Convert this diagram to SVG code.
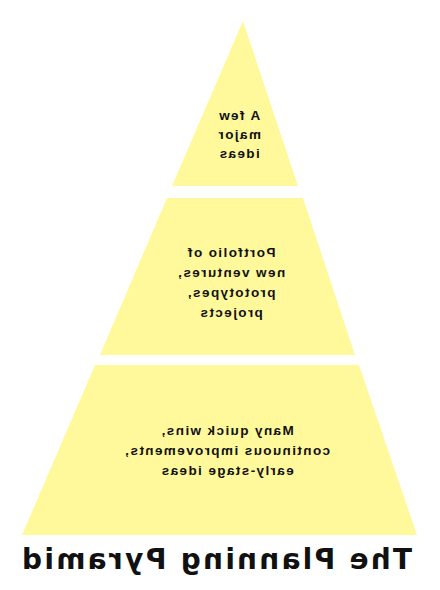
<svg xmlns="http://www.w3.org/2000/svg" width="440" height="590" viewBox="0 0 440 590">
<style>
.tier{fill:#FFF99C;stroke:none}
.lbl{font-family:"Liberation Sans",Arial,sans-serif;font-weight:bold;font-size:13.5px;letter-spacing:1.4px;fill:#111;text-anchor:middle}
.title{font-family:"DejaVu Sans",Verdana,sans-serif;font-weight:bold;font-size:28px;fill:#111;text-anchor:middle}
</style>
<rect width="440" height="590" fill="#ffffff"/>
<g id="tier-top">
<polygon class="tier" points="243,21 298,186 172,186"/>
<g transform="matrix(-1 0 0 1 478 0)">
<text class="lbl" x="239" y="120">A few</text>
<text class="lbl" x="239" y="139">major</text>
<text class="lbl" x="239" y="158">ideas</text>
</g>
</g>
<g id="tier-middle">
<polygon class="tier" points="167,198 303,198 355,355 100,355"/>
<g transform="matrix(-1 0 0 1 462 0)">
<text class="lbl" x="231" y="257">Portfolio of</text>
<text class="lbl" x="231" y="277">new ventures,</text>
<text class="lbl" x="231" y="297">prototypes,</text>
<text class="lbl" x="231" y="317">projects</text>
</g>
</g>
<g id="tier-bottom">
<polygon class="tier" points="95,365 359,365 417,535 22,535"/>
<g transform="matrix(-1 0 0 1 454 0)">
<text class="lbl" x="227" y="435">Many quick wins,</text>
<text class="lbl" x="227" y="455">continuous improvements,</text>
<text class="lbl" x="227" y="475">early-stage ideas</text>
</g>
</g>
<g id="title">
<text class="title" x="217" y="569" transform="matrix(-1 0 0 1 434 0)" textLength="390" lengthAdjust="spacing">The Planning Pyramid</text>
</g>
<g id="connectors"></g>
</svg>
